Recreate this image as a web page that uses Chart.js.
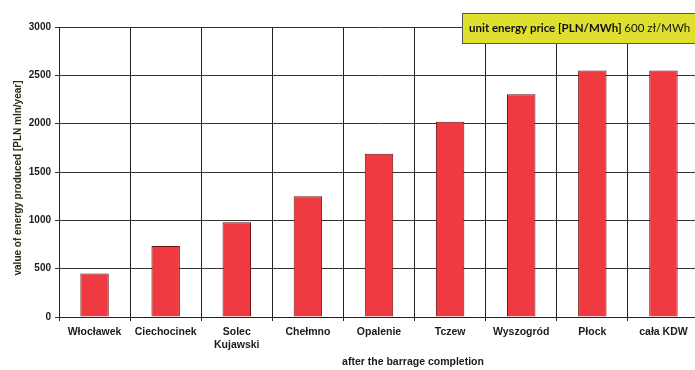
<!DOCTYPE html>
<html>
<head>
<meta charset="utf-8">
<script src="https://cdn.jsdelivr.net/npm/chart.js@4.4.0/dist/chart.umd.min.js"></script>
<style>
  html, body { margin: 0; padding: 0; background: #fff; overflow: hidden; }
  #wrap { width: 700px; height: 370px; }
</style>
</head>
<body>
<div id="wrap"><canvas id="c" width="700" height="370"></canvas></div>
<script>
// Annual value of energy produced per barrage location
const categories = ['Włocławek', 'Ciechocinek', ['Solec', 'Kujawski'], 'Chełmno', 'Opalenie', 'Tczew', 'Wyszogród', 'Płock', 'cała KDW'];
const energyValue = [450, 735, 980, 1250, 1690, 2020, 2305, 2550, 2550];
const yTicks = [0, 500, 1000, 1500, 2000, 2500, 3000];

const yTitle = 'value of energy produced [PLN mln/year]';
const xTitle = 'after the barrage completion';
const priceLabel = 'unit energy price [PLN/MWh]';
const priceValue = '600 zł/MWh';

const titleFont = 'bold 10.5px "Liberation Sans", Arial, sans-serif';

// Axis titles and the price box
const extras = {
  id: 'extras',
  afterDraw(chart) {
    const { ctx, chartArea } = chart;
    ctx.save();
    // y axis title
    ctx.fillStyle = '#2e2a18';
    ctx.font = 'bold 10px "Liberation Sans", Arial, sans-serif';
    ctx.textAlign = 'center';
    ctx.textBaseline = 'middle';
    ctx.translate(18, (chartArea.top + chartArea.bottom) / 2 + 6);
    ctx.rotate(-Math.PI / 2);
    ctx.fillText(yTitle, 0, 0);
    ctx.restore();

    ctx.save();
    ctx.fillStyle = '#1a1a1a';
    ctx.font = titleFont;
    ctx.textAlign = 'center';
    ctx.textBaseline = 'middle';
    ctx.fillText(xTitle, chartArea.left + 354, 362);

    // price box
    const bx = 462, by = 13, bw = 245, bh = 30;
    ctx.fillStyle = '#dfdf2f';
    ctx.fillRect(bx, by, bw, bh);
    ctx.strokeStyle = '#555';
    ctx.lineWidth = 1;
    ctx.strokeRect(bx + 0.5, by + 0.5, bw, bh);
    ctx.textAlign = 'left';
    ctx.fillStyle = '#111';
    ctx.font = 'bold 11.5px Lato, "Liberation Sans", sans-serif';
    ctx.fillText(priceLabel, 469, by + bh / 2);
    const w = ctx.measureText(priceLabel + ' ').width;
    ctx.font = '11.5px Lato, "Liberation Sans", sans-serif';
    ctx.fillText(priceValue, 469 + w, by + bh / 2);
    ctx.restore();
  }
};

new Chart(document.getElementById('c'), {
  type: 'bar',
  data: {
    labels: categories,
    datasets: [{
      data: energyValue,
      backgroundColor: '#ee3a40',
      borderColor: '#6e1212',
      borderWidth: 1,
      borderSkipped: 'bottom',
      categoryPercentage: 1.0,
      barPercentage: 0.4
    }]
  },
  options: {
    responsive: false,
    animation: false,
    devicePixelRatio: 1,
    layout: { padding: { left: 0, right: 1, top: 27, bottom: 0 } },
    plugins: { legend: { display: false }, tooltip: { enabled: false } },
    scales: {
      x: {
        grid: { color: '#222', lineWidth: 1, tickLength: 4, offset: true, drawOnChartArea: true },
        border: { color: '#222' },
        ticks: {
          color: '#1a1a1a',
          font: { family: '"Liberation Sans", Arial, sans-serif', size: 10.5, weight: 'bold' },
          padding: 5,
          maxRotation: 0,
          autoSkip: false
        },
        afterFit(scale) { scale.height = 53; }
      },
      y: {
        min: 0,
        max: 3000,
        afterBuildTicks(scale) { scale.ticks = yTicks.map(v => ({ value: v })); },
        grid: { color: '#333', lineWidth: 1, tickLength: 4 },
        border: { color: '#222' },
        ticks: {
          color: '#1a1a1a',
          font: { family: '"Liberation Sans", Arial, sans-serif', size: 10, weight: 'bold' },
          padding: 4,
          callback: (v) => String(v)
        },
        afterFit(scale) { scale.width = 59; }
      }
    }
  },
  plugins: [extras]
});
</script>
</body>
</html>
